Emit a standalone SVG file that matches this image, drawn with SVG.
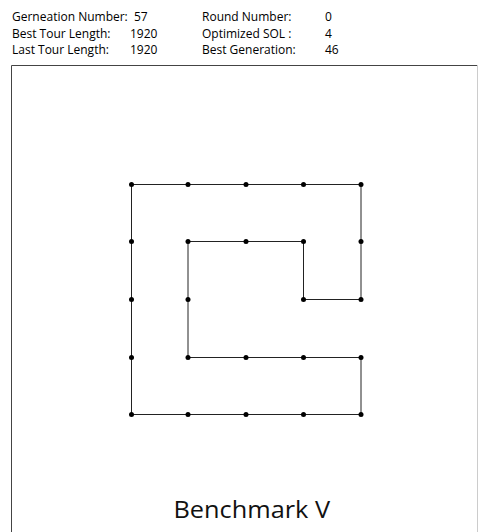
<svg xmlns="http://www.w3.org/2000/svg" width="480" height="532" viewBox="0 0 480 532">
<style>
.t{font-family:"Open Sans","Liberation Sans",sans-serif;font-size:12px;fill:#000}
.edge{stroke:#222;stroke-width:1;fill:none}
.dot{fill:#000}
.title{font-family:"Open Sans","Liberation Sans",sans-serif;font-size:24px;fill:#111}
</style>
<rect width="480" height="532" fill="#fff"/>
<g id="stats">
<text class="t" x="12" y="20.5">Gerneation Number:</text>
<text class="t" x="134" y="20.5">57</text>
<text class="t" x="12" y="37.5">Best Tour Length:</text>
<text class="t" x="130" y="37.5">1920</text>
<text class="t" x="12" y="54">Last Tour Length:</text>
<text class="t" x="130" y="54">1920</text>
<text class="t" x="202" y="20.5">Round Number:</text>
<text class="t" x="325" y="20.5">0</text>
<text class="t" x="202" y="37.5">Optimized SOL :</text>
<text class="t" x="325" y="37.5">4</text>
<text class="t" x="202" y="54">Best Generation:</text>
<text class="t" x="325" y="54">46</text>
</g>
<g id="frame">
<path d="M11.5 532 V65.5 H477" stroke="#444" stroke-width="1" fill="none"/>
<path d="M477.5 65 V532" stroke="#ccc" stroke-width="1" fill="none"/>
</g>
<g id="connectors">
<path class="edge" d="M131.5 184.5 H361 V299.5 H303.5 V241.5 H188 V357.5 H361 V414.5 H131.5 Z"/>
</g>
<g id="nodes">
<circle class="dot" cx="131.5" cy="184.5" r="2.5"/><circle class="dot" cx="188" cy="184.5" r="2.5"/><circle class="dot" cx="246" cy="184.5" r="2.5"/><circle class="dot" cx="303.5" cy="184.5" r="2.5"/><circle class="dot" cx="361" cy="184.5" r="2.5"/>
<circle class="dot" cx="131.5" cy="241.5" r="2.5"/><circle class="dot" cx="188" cy="241.5" r="2.5"/><circle class="dot" cx="246" cy="241.5" r="2.5"/><circle class="dot" cx="303.5" cy="241.5" r="2.5"/><circle class="dot" cx="361" cy="241.5" r="2.5"/>
<circle class="dot" cx="131.5" cy="299.5" r="2.5"/><circle class="dot" cx="188" cy="299.5" r="2.5"/><circle class="dot" cx="303.5" cy="299.5" r="2.5"/><circle class="dot" cx="361" cy="299.5" r="2.5"/>
<circle class="dot" cx="131.5" cy="357.5" r="2.5"/><circle class="dot" cx="188" cy="357.5" r="2.5"/><circle class="dot" cx="246" cy="357.5" r="2.5"/><circle class="dot" cx="303.5" cy="357.5" r="2.5"/><circle class="dot" cx="361" cy="357.5" r="2.5"/>
<circle class="dot" cx="131.5" cy="414.5" r="2.5"/><circle class="dot" cx="188" cy="414.5" r="2.5"/><circle class="dot" cx="246" cy="414.5" r="2.5"/><circle class="dot" cx="303.5" cy="414.5" r="2.5"/><circle class="dot" cx="361" cy="414.5" r="2.5"/>
</g>
<text class="title" x="173.5" y="517.5" textLength="156.5" lengthAdjust="spacingAndGlyphs">Benchmark V</text>
</svg>
